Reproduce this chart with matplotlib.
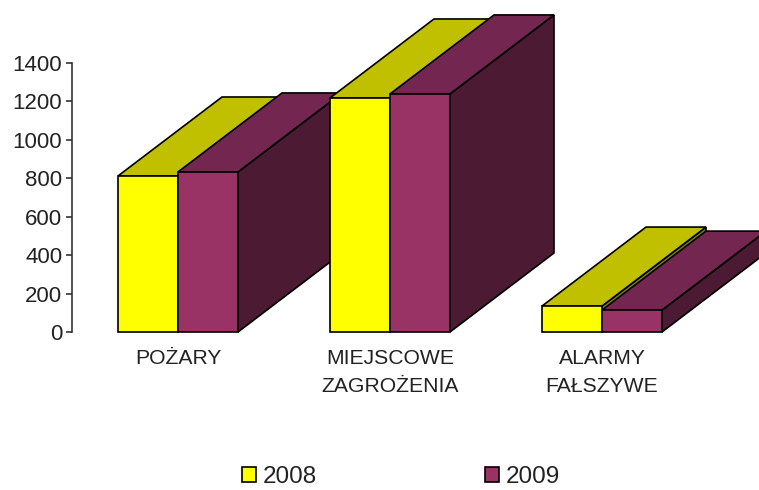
import matplotlib
matplotlib.use("Agg")
import matplotlib.pyplot as plt
from matplotlib.patches import Patch, Polygon
import numpy as np

categories = ["POŻARY", "MIEJSCOWE\nZAGROŻENIA", "ALARMY\nFAŁSZYWE"]
values_2008 = [812, 1218, 135]
values_2009 = [833, 1239, 114]
y_ticks = [0, 200, 400, 600, 800, 1000, 1200, 1400]

plt.rcParams["font.family"] = ["Liberation Sans", "DejaVu Sans"]

W, H = 759, 490
BAR_W = 60 / 212
DX = 104 / 212          # 3d depth, x data units
DY = 79 / (269 / 1400)  # 3d depth, y data units
EDGE = 1.2


def draw_bar_3d(ax, x, value, front, top, side, z):
    left, right = x, x + BAR_W
    side_pts = [(right, 0), (right + DX, DY), (right + DX, value + DY), (right, value)]
    top_pts = [(left, value), (left + DX, value + DY), (right + DX, value + DY), (right, value)]
    ax.add_patch(Polygon(side_pts, facecolor=side, edgecolor="black", lw=EDGE,
        clip_on=False, zorder=z))
    ax.add_patch(Polygon(top_pts, facecolor=top, edgecolor="black", lw=EDGE,
        clip_on=False, zorder=z))
    ax.bar(x, value, BAR_W, align="edge", color=front, edgecolor="black", lw=EDGE,
        clip_on=False, zorder=z)


fig = plt.figure(figsize=(W / 100, H / 100), dpi=100)
ax = fig.add_axes([72 / W, 1 - 332 / H, 636 / W, 269 / H])
ax.set_xlim(-0.5, 2.5)
ax.set_ylim(0, 1400)

z = 2
for i in range(len(categories)):
    draw_bar_3d(ax, i - BAR_W, values_2008[i], "#FFFF00", "#C0C000", "#808000", z)
    draw_bar_3d(ax, i, values_2009[i], "#993366", "#732650", "#4D1A33", z + 1)
    z += 2

for name in ["top", "right", "bottom"]:
    ax.spines[name].set_visible(False)
ax.spines["left"].set_color("#333333")
ax.spines["left"].set_linewidth(1.2)

ax.set_yticks(y_ticks)
ax.tick_params(axis="y", labelsize=16, length=4, width=1.2, color="#333333",
    labelcolor="#222222", pad=3)
ax.set_xticks(np.arange(len(categories)))
ax.set_xticklabels(categories, fontsize=15.2, color="#222222", linespacing=1.6)
ax.tick_params(axis="x", length=0, pad=12)

handles = [Patch(facecolor="#FFFF00", edgecolor="black", lw=1.2, label="2008"),
    Patch(facecolor="#993366", edgecolor="black", lw=1.2, label="2009")]
fig.legend(handles=handles, ncol=2, frameon=False, fontsize=17.5,
    loc="center", bbox_to_anchor=(401 / W, 1 - 477 / H),
    handlelength=0.58, handleheight=0.58, handletextpad=0.3, columnspacing=6.9,
    labelcolor="#222222", borderpad=0)

fig.savefig("out.png", dpi=100)
